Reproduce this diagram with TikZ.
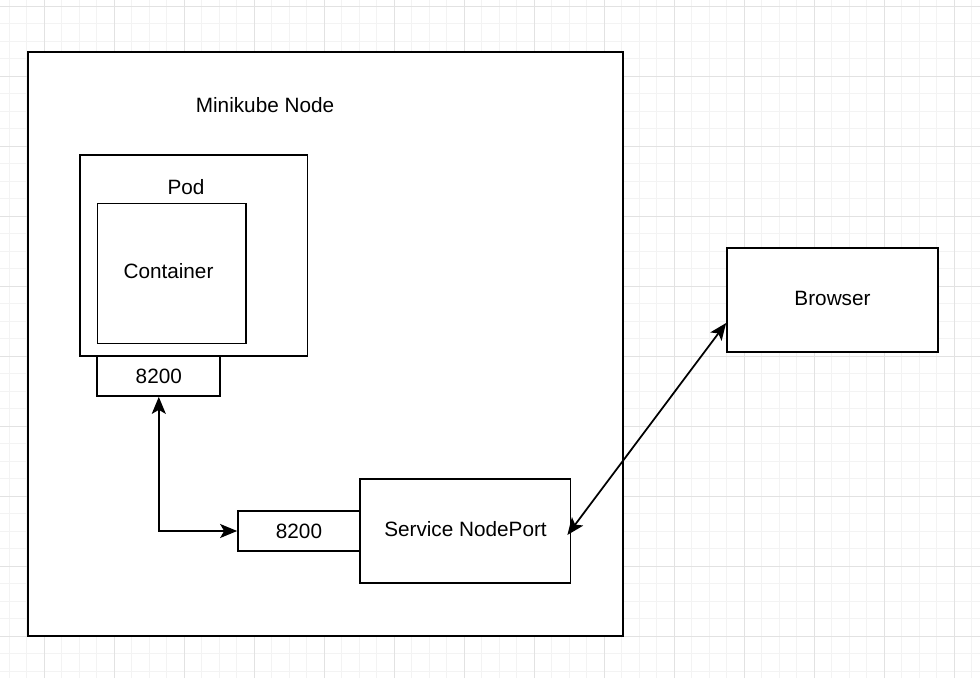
\documentclass[tikz,border=0pt]{standalone}
\usepackage{fontspec}
\setmainfont{Liberation Sans}
\usepackage{tikz}
\usetikzlibrary{positioning, arrows.meta}
\definecolor{gridfine}{RGB}{243, 243, 243}
\definecolor{gridbold}{RGB}{226, 226, 226}
\tikzset{
    box/.style={draw, rectangle, fill=white, line width=1pt, inner sep=0pt, font=\fontsize{11.8}{14}\selectfont},
    tag/.style={inner sep=0pt, font=\fontsize{11.8}{14}\selectfont},
    conn/.style={{Stealth[length=0.34cm, width=0.28cm, inset=0.08cm]}-{Stealth[length=0.34cm, width=0.28cm, inset=0.08cm]}, line width=1pt},
    gridLow/.style={draw=gridfine, line width=0.5pt},
    gridHigh/.style={draw=gridbold, line width=0.5pt},
}

\begin{document}
\begin{tikzpicture}[x=0.02cm, y=-0.02cm]
        \useasboundingbox (0,0) rectangle (980,678);

        \foreach \i in {0,...,55} {
            \draw[gridLow] ({9.3+17.5*\i},0) -- ({9.3+17.5*\i},678);
        }
        \foreach \i in {0,...,38} {
            \draw[gridLow] (0,{6+17.5*\i}) -- (980,{6+17.5*\i});
        }
        \foreach \i in {0,...,13} {
            \draw[gridHigh] ({44.3+70*\i},0) -- ({44.3+70*\i},678);
        }
        \foreach \i in {0,...,9} {
            \draw[gridHigh] (0,{6+70*\i}) -- (980,{6+70*\i});
        }

        \node[box, minimum width=11.9cm, minimum height=11.68cm] (mk) at (325.5,344) {};
        \node[tag] (mktxt) at (265,105) {Minikube Node};

        \node[box, minimum width=4.55cm, minimum height=4.02cm] (pod) at (193.75,255.5) {};
        \node[tag] (podtxt) at (186,187) {Pod};
        \node[box, minimum width=2.97cm, minimum height=2.8cm] (ctr) at (171.7,273.5) {};
        \node[tag] (ctrtxt) at (168.5,271.5) {Container};
        \node[box, minimum width=2.46cm, minimum height=0.8cm] (p1) at (158.8,376) {8200};

        \node[box, minimum width=4.21cm, minimum height=2.08cm] (svc) at (465.25,531) {};
        \node[tag] (svctxt) at (465.5,529.5) {Service NodePort};
        \node[box, minimum width=2.44cm, minimum height=0.8cm] (p2) at (299,531) {8200};

        \node[box, minimum width=4.22cm, minimum height=2.08cm] (br) at (832.5,300) {};
        \node[tag] (brtxt) at (832.5,298.5) {Browser};

        \draw[conn] (p1.south) |- (p2.west);
        \draw[conn] ([shift={(-4,4)}]svc.east) -- ([yshift=-0.46cm]br.west);
    \end{tikzpicture}
\end{document}
